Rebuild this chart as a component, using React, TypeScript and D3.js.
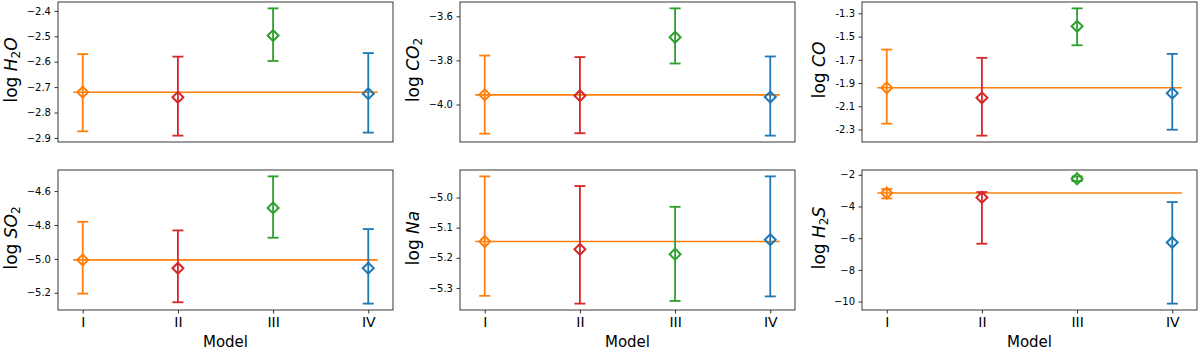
import React, { useEffect, useRef } from 'react';
import * as d3 from 'd3';

const models = ['I', 'II', 'III', 'IV'];
const modelColors = ['#ff7f0e', '#d62728', '#2ca02c', '#1f77b4'];

const h2oVal = [-2.72, -2.74, -2.497, -2.726];
const h2oLow = [-2.874, -2.891, -2.597, -2.879];
const h2oHigh = [-2.57, -2.58, -2.39, -2.566];
const h2oTicks = [-2.4, -2.5, -2.6, -2.7, -2.8, -2.9];

const co2Val = [-3.956, -3.96, -3.695, -3.966];
const co2Low = [-4.132, -4.13, -3.814, -4.141];
const co2High = [-3.778, -3.785, -3.564, -3.782];
const co2Ticks = [-3.6, -3.8, -4.0];

const coVal = [-1.941, -2.027, -1.412, -1.987];
const coLow = [-2.25, -2.353, -1.575, -2.302];
const coHigh = [-1.612, -1.683, -1.257, -1.649];
const coTicks = [-1.3, -1.5, -1.7, -1.9, -2.1, -2.3];

const so2Val = [-5.006, -5.055, -4.699, -5.055];
const so2Low = [-5.205, -5.256, -4.875, -5.264];
const so2High = [-4.781, -4.832, -4.513, -4.824];
const so2Ticks = [-4.6, -4.8, -5.0, -5.2];

const naVal = [-5.146, -5.172, -5.188, -5.14];
const naLow = [-5.326, -5.352, -5.343, -5.328];
const naHigh = [-4.93, -4.962, -5.031, -4.93];
const naTicks = [-5.0, -5.1, -5.2, -5.3];

const h2sVal = [-3.15, -3.43, -2.25, -6.27];
const h2sLow = [-3.49, -6.35, -2.4, -10.13];
const h2sHigh = [-2.9, -3.09, -2.1, -3.72];
const h2sTicks = [-2, -4, -6, -8, -10];

// label pieces: [text, kind] where kind is 'r' regular, 'i' italic, 's' subscript
const h2oLabel = [['log ', 'r'], ['H', 'i'], ['2', 's'], ['O', 'i']];
const co2Label = [['log ', 'r'], ['CO', 'i'], ['2', 's']];
const coLabel = [['log ', 'r'], ['CO', 'i']];
const so2Label = [['log ', 'r'], ['SO', 'i'], ['2', 's']];
const naLabel = [['log ', 'r'], ['Na', 'i']];
const h2sLabel = [['log ', 'r'], ['H', 'i'], ['2', 's'], ['S', 'i']];

const FONT = 'DejaVu Sans, sans-serif';

const panels = [
  { val: h2oVal, low: h2oLow, high: h2oHigh, ticks: h2oTicks, label: h2oLabel, fmt: d3.format('.1f'), col: 0, row: 0, lab: 41 },
  { val: co2Val, low: co2Low, high: co2High, ticks: co2Ticks, label: co2Label, fmt: d3.format('.1f'), col: 1, row: 0, lab: 41 },
  { val: coVal, low: coLow, high: coHigh, ticks: coTicks, label: coLabel, fmt: (d: number) => d.toFixed(1), col: 2, row: 0, lab: 37 },
  { val: so2Val, low: so2Low, high: so2High, ticks: so2Ticks, label: so2Label, fmt: d3.format('.1f'), col: 0, row: 1, lab: 41 },
  { val: naVal, low: naLow, high: naHigh, ticks: naTicks, label: naLabel, fmt: d3.format('.1f'), col: 1, row: 1, lab: 41 },
  { val: h2sVal, low: h2sLow, high: h2sHigh, ticks: h2sTicks, label: h2sLabel, fmt: d3.format('d'), col: 2, row: 1, lab: 37 },
];

const cols = [[58, 393], [460, 795], [862, 1197]];
const rows = [[2, 142], [170, 310]];

function App() {
  const svgRef = useRef<SVGSVGElement>(null);

  useEffect(() => {
    const svg = d3.select(svgRef.current);
    svg.selectAll('*').remove();

    panels.forEach(p => {
      const [l, r] = cols[p.col];
      const [t, b] = rows[p.row];
      const lo = d3.min(p.low) as number;
      const hi = d3.max(p.high) as number;
      const pad = (hi - lo) * 0.05;
      const x = d3.scaleLinear().domain([-0.26, 3.26]).range([l, r]);
      const y = d3.scaleLinear().domain([lo - pad, hi + pad]).range([b, t]);
      const g = svg.append('g');

      // y axis
      const yAxis = g.append('g')
        .attr('transform', `translate(${l},0)`)
        .call(d3.axisLeft(y).tickValues(p.ticks).tickFormat(p.fmt as any).tickSize(3.5).tickPadding(3.5));
      yAxis.select('.domain').remove();
      yAxis.selectAll('line').attr('stroke', '#000').attr('stroke-width', 0.8);
      yAxis.selectAll('text').attr('font-family', FONT).attr('font-size', 10).attr('fill', '#000');

      // x axis on bottom row only
      if (p.row === 1) {
        const xAxis = g.append('g')
          .attr('transform', `translate(0,${b})`)
          .call(d3.axisBottom(x).tickValues([0, 1, 2, 3]).tickFormat((d: any) => models[d]).tickSize(3.5).tickPadding(4));
        xAxis.select('.domain').remove();
        xAxis.selectAll('line').attr('stroke', '#000').attr('stroke-width', 0.8);
        xAxis.selectAll('text').attr('font-family', FONT).attr('font-size', 14).attr('fill', '#000');
        g.append('text')
          .attr('x', (l + r) / 2)
          .attr('y', 347)
          .attr('text-anchor', 'middle')
          .attr('font-family', FONT)
          .attr('font-size', 15)
          .text('Model');
      }

      // y label
      const label = g.append('text')
        .attr('transform', `translate(${l - p.lab},${(t + b) / 2 - 2}) rotate(-90)`)
        .attr('text-anchor', 'middle')
        .attr('font-family', FONT)
        .attr('font-size', 17);
      p.label.forEach(([txt, kind], i) => {
        const ts = label.append('tspan').text(txt);
        if (kind === 'i') ts.attr('font-style', 'italic');
        if (kind === 's') ts.attr('font-size', 12).attr('dy', 3);
        if (i > 0 && p.label[i - 1][1] === 's') ts.attr('dy', -3);
      });

      // reference line at model I
      g.append('line')
        .attr('x1', x(-0.1)).attr('x2', x(3.1))
        .attr('y1', y(p.val[0])).attr('y2', y(p.val[0]))
        .attr('stroke', modelColors[0]).attr('stroke-width', 1.6);

      // error bars
      const diamond = d3.symbol(d3.symbolSquare, 60)();
      p.val.forEach((v, i) => {
        const c = modelColors[i];
        const cx = x(i);
        g.append('line')
          .attr('x1', cx).attr('x2', cx)
          .attr('y1', y(p.low[i])).attr('y2', y(p.high[i]))
          .attr('stroke', c).attr('stroke-width', 1.8);
        [p.low[i], p.high[i]].forEach(e => {
          g.append('line')
            .attr('x1', cx - 5.5).attr('x2', cx + 5.5)
            .attr('y1', y(e)).attr('y2', y(e))
            .attr('stroke', c).attr('stroke-width', 1.8);
        });
        g.append('path')
          .attr('d', diamond)
          .attr('transform', `translate(${cx},${y(v)}) rotate(45)`)
          .attr('fill', 'none')
          .attr('stroke', c)
          .attr('stroke-width', 2);
      });

      // frame
      g.append('rect')
        .attr('x', l).attr('y', t)
        .attr('width', r - l).attr('height', b - t)
        .attr('fill', 'none')
        .attr('stroke', '#222')
        .attr('stroke-width', 0.9);
    });
  }, []);

  return (
    <svg
      ref={svgRef}
      width={1200}
      height={351}
      style={{ position: 'absolute', left: 0, top: 0, background: '#fff' }}
    />
  );
}

export default App;
